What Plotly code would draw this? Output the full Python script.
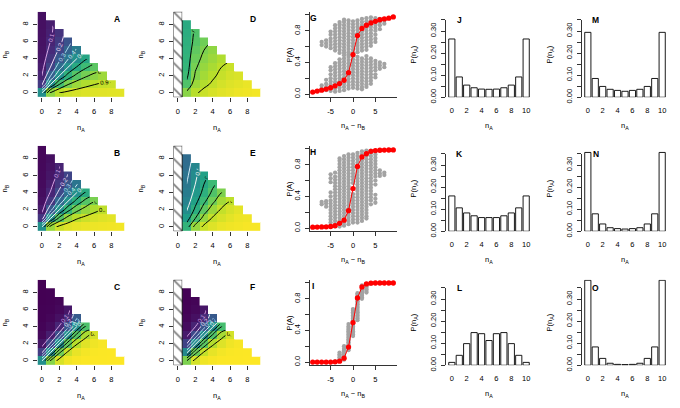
import plotly.graph_objects as go

W, H = 680, 408
CELL = 136                                   # one mfrow cell: 680/5 x 408/3
PL, PT, PW, PH = 37.5, 12.0, 87.0, 86.7      # plot region inside a cell (px)
FONT = "Liberation Sans, Arial, sans-serif"

# ---------------- data ----------------
N_A = list(range(10))
N_B = list(range(10))

LEVELS = [0.1, 0.2, 0.3, 0.4, 0.5, 0.6, 0.7, 0.8, 0.9]
LEVEL_COLORS = ["#d6a3e3", "#eedcf5", "#b3dcef", "#d4eef7", "#f4f4f4",
                "black", "black", "black", "black"]

# P(A) per n_A (outer list), values for n_B = 0, 1, ...
A_P = [
    [0.5, 0.170, 0.100, 0.074, 0.061, 0.053, 0.049, 0.045, 0.043, 0.041],
    [0.830, 0.5, 0.301, 0.203, 0.151, 0.121, 0.102, 0.088, 0.079],
    [0.900, 0.699, 0.5, 0.360, 0.271, 0.213, 0.174, 0.147],
    [0.926, 0.797, 0.640, 0.5, 0.393, 0.315, 0.259],
    [0.939, 0.849, 0.729, 0.607, 0.5, 0.413],
    [0.947, 0.879, 0.787, 0.685, 0.587],
    [0.951, 0.898, 0.826, 0.741],
    [0.955, 0.912, 0.853],
    [0.957, 0.921],
    [0.959],
]
B_P = [
    [0.5, 0.155, 0.074, 0.047, 0.035, 0.028, 0.024, 0.021, 0.019, 0.017],
    [0.845, 0.5, 0.269, 0.159, 0.106, 0.077, 0.060, 0.049, 0.041],
    [0.926, 0.731, 0.5, 0.329, 0.224, 0.161, 0.121, 0.096],
    [0.953, 0.841, 0.671, 0.5, 0.366, 0.271, 0.206],
    [0.965, 0.894, 0.776, 0.634, 0.5, 0.389],
    [0.972, 0.923, 0.839, 0.729, 0.611],
    [0.976, 0.940, 0.879, 0.794],
    [0.979, 0.951, 0.904],
    [0.981, 0.959],
    [0.983],
]
C_P = [
    [0.5, 0.183, 0.059, 0.020, 0.008, 0.003, 0.002, 0.001, 0.0, 0.0],
    [0.817, 0.5, 0.216, 0.082, 0.032, 0.014, 0.006, 0.003, 0.002],
    [0.941, 0.784, 0.5, 0.244, 0.106, 0.046, 0.021, 0.010],
    [0.980, 0.918, 0.756, 0.5, 0.267, 0.128, 0.061],
    [0.992, 0.968, 0.894, 0.733, 0.5, 0.287],
    [0.997, 0.986, 0.954, 0.872, 0.713],
    [0.998, 0.994, 0.979, 0.939],
    [0.999, 0.997, 0.990],
    [1.0, 0.998],
    [1.0],
]
D_P = [
    [],
    [0.82, 0.72, 0.68, 0.66, 0.65, 0.64, 0.63, 0.62, 0.61],
    [0.89, 0.85, 0.81, 0.79, 0.77, 0.75, 0.73, 0.72],
    [0.92, 0.885, 0.86, 0.84, 0.82, 0.80, 0.78],
    [0.94, 0.91, 0.89, 0.87, 0.85, 0.83],
    [0.955, 0.935, 0.915, 0.90, 0.88],
    [0.965, 0.95, 0.935, 0.92],
    [0.975, 0.96, 0.945],
    [0.98, 0.97],
    [0.985],
]
E_P = [
    [],
    [0.65, 0.55, 0.49, 0.45, 0.42, 0.40, 0.38, 0.36, 0.35],
    [0.84, 0.70, 0.62, 0.57, 0.53, 0.50, 0.48, 0.46],
    [0.92, 0.84, 0.75, 0.68, 0.63, 0.60, 0.57],
    [0.95, 0.91, 0.85, 0.78, 0.72, 0.68],
    [0.97, 0.94, 0.91, 0.86, 0.80],
    [0.98, 0.96, 0.94, 0.90],
    [0.985, 0.975, 0.96],
    [0.99, 0.98],
    [0.99],
]
F_P = [
    [],
    [0.80, 0.47, 0.20, 0.075, 0.03, 0.013, 0.006, 0.003, 0.002],
    [0.935, 0.77, 0.48, 0.23, 0.10, 0.043, 0.02, 0.01],
    [0.978, 0.91, 0.74, 0.49, 0.26, 0.12, 0.058],
    [0.991, 0.965, 0.885, 0.72, 0.49, 0.28],
    [0.997, 0.985, 0.95, 0.865, 0.70],
    [0.998, 0.994, 0.978, 0.935],
    [0.999, 0.997, 0.99],
    [1.0, 0.998],
    [1.0],
]

# P(A) against n_A - n_B
DIFF = list(range(-9, 10))
G_RED = [0.025, 0.038, 0.05, 0.063, 0.08, 0.104, 0.133, 0.175, 0.27, 0.5,
         0.74, 0.83, 0.87, 0.90, 0.92, 0.94, 0.95, 0.96, 0.975]
H_RED = [0.012, 0.013, 0.014, 0.016, 0.02, 0.03, 0.06, 0.10, 0.22, 0.5,
         0.78, 0.90, 0.94, 0.97, 0.98, 0.984, 0.986, 0.987, 0.988]
I_RED = [0.0, 0.0, 0.0, 0.0, 0.0, 0.003, 0.012, 0.05, 0.19, 0.5,
         0.81, 0.95, 0.988, 0.997, 1.0, 1.0, 1.0, 1.0, 1.0]

GRAY_X = list(range(-7, 8))
G_GRAY = [
    [0.07, 0.11, 0.62, 0.66],
    [0.05, 0.09, 0.13, 0.18, 0.60, 0.64, 0.68],
    [0.04, 0.08, 0.12, 0.16, 0.20, 0.25, 0.30, 0.34, 0.58, 0.62, 0.66, 0.70, 0.75, 0.79],
    [0.03, 0.07, 0.11, 0.15, 0.19, 0.23, 0.27, 0.31, 0.35, 0.39, 0.55, 0.59, 0.63, 0.67,
     0.71, 0.75, 0.79, 0.83, 0.87],
    [0.04, 0.08, 0.12, 0.16, 0.20, 0.24, 0.28, 0.32, 0.36, 0.40, 0.44, 0.52, 0.56, 0.60,
     0.64, 0.68, 0.72, 0.76, 0.80, 0.84, 0.88, 0.91],
    [0.05, 0.09, 0.13, 0.17, 0.21, 0.25, 0.29, 0.33, 0.37, 0.41, 0.45, 0.49, 0.52, 0.55,
     0.59, 0.63, 0.67, 0.71, 0.75, 0.79, 0.83, 0.87, 0.91, 0.94],
    [0.07, 0.11, 0.15, 0.19, 0.23, 0.27, 0.31, 0.35, 0.39, 0.43, 0.47, 0.50, 0.53, 0.57,
     0.61, 0.65, 0.69, 0.73, 0.77, 0.81, 0.85, 0.89, 0.93],
    [0.08, 0.12, 0.16, 0.20, 0.24, 0.28, 0.32, 0.36, 0.40, 0.44, 0.48, 0.52, 0.56, 0.60,
     0.64, 0.68, 0.72, 0.76, 0.80, 0.84, 0.88, 0.92],
    [0.07, 0.11, 0.15, 0.19, 0.23, 0.27, 0.31, 0.35, 0.39, 0.43, 0.47, 0.53, 0.57, 0.61,
     0.65, 0.69, 0.73, 0.77, 0.81, 0.85, 0.89, 0.93],
    [0.06, 0.09, 0.13, 0.17, 0.21, 0.25, 0.29, 0.33, 0.37, 0.41, 0.45, 0.55, 0.59, 0.63,
     0.67, 0.71, 0.75, 0.79, 0.83, 0.87, 0.91, 0.95],
    [0.09, 0.12, 0.16, 0.20, 0.24, 0.28, 0.32, 0.36, 0.40, 0.44, 0.48, 0.56, 0.60, 0.64,
     0.68, 0.72, 0.76, 0.80, 0.84, 0.88, 0.92, 0.96],
    [0.13, 0.17, 0.21, 0.25, 0.29, 0.33, 0.37, 0.41, 0.45, 0.61, 0.65, 0.69, 0.73, 0.77,
     0.81, 0.85, 0.89, 0.93, 0.97],
    [0.21, 0.25, 0.30, 0.34, 0.38, 0.42, 0.66, 0.70, 0.75, 0.80, 0.84, 0.88, 0.92, 0.96],
    [0.32, 0.36, 0.40, 0.82, 0.87, 0.91, 0.95],
    [0.34, 0.38, 0.89, 0.93],
]
H_GRAY = [
    [0.30, 0.33],
    [0.27, 0.31, 0.34],
    [0.03, 0.07, 0.11, 0.15, 0.19, 0.23, 0.27, 0.31, 0.35, 0.40, 0.45, 0.58, 0.63, 0.68],
    [0.02, 0.05, 0.09, 0.13, 0.17, 0.21, 0.25, 0.29, 0.33, 0.37, 0.41, 0.45, 0.49, 0.53,
     0.57, 0.61, 0.65, 0.70],
    [0.02, 0.05, 0.09, 0.13, 0.17, 0.21, 0.25, 0.29, 0.33, 0.37, 0.41, 0.45, 0.49, 0.53,
     0.57, 0.61, 0.65, 0.69, 0.73, 0.77, 0.81, 0.85, 0.88],
    [0.03, 0.07, 0.11, 0.15, 0.19, 0.23, 0.27, 0.31, 0.35, 0.39, 0.43, 0.47, 0.51, 0.55,
     0.59, 0.63, 0.67, 0.71, 0.75, 0.79, 0.83, 0.87, 0.91],
    [0.05, 0.09, 0.13, 0.17, 0.21, 0.25, 0.29, 0.33, 0.37, 0.41, 0.45, 0.49, 0.53, 0.57,
     0.61, 0.65, 0.69, 0.73, 0.77, 0.81, 0.85, 0.89, 0.93],
    [0.07, 0.11, 0.15, 0.19, 0.23, 0.27, 0.31, 0.35, 0.39, 0.43, 0.57, 0.61, 0.65, 0.69,
     0.73, 0.77, 0.81, 0.85, 0.89, 0.93],
    [0.07, 0.11, 0.15, 0.19, 0.23, 0.27, 0.31, 0.35, 0.39, 0.43, 0.47, 0.51, 0.55, 0.59,
     0.63, 0.67, 0.71, 0.75, 0.79, 0.83, 0.87, 0.91, 0.95],
    [0.09, 0.13, 0.17, 0.21, 0.25, 0.29, 0.33, 0.37, 0.41, 0.45, 0.49, 0.53, 0.57, 0.61,
     0.65, 0.69, 0.73, 0.77, 0.81, 0.85, 0.89, 0.93, 0.97],
    [0.12, 0.15, 0.19, 0.23, 0.27, 0.31, 0.35, 0.39, 0.43, 0.47, 0.51, 0.55, 0.59, 0.63,
     0.67, 0.71, 0.75, 0.79, 0.83, 0.87, 0.91, 0.95, 0.98],
    [0.30, 0.35, 0.39, 0.43, 0.47, 0.51, 0.55, 0.59, 0.63, 0.67, 0.71, 0.75, 0.79, 0.83,
     0.87, 0.91, 0.95, 0.98],
    [0.32, 0.37, 0.42, 0.55, 0.60, 0.65, 0.69, 0.73, 0.77, 0.81, 0.85, 0.89, 0.93, 0.97],
    [0.66, 0.69, 0.73],
    [0.67, 0.70],
]
I_GRAY_X = list(range(-4, 5))
I_GRAY = [
    [0.003, 0.008],
    [0.02, 0.04, 0.06, 0.08, 0.10, 0.12],
    [0.03, 0.05, 0.07, 0.09, 0.11, 0.13, 0.15, 0.17, 0.20],
    [0.15, 0.17, 0.19, 0.21, 0.23, 0.25, 0.27, 0.29, 0.31, 0.33, 0.35, 0.37, 0.39, 0.41,
     0.43, 0.45, 0.48],
    [0.33, 0.35, 0.37, 0.39, 0.41, 0.43, 0.45, 0.47, 0.49, 0.51, 0.53, 0.55, 0.57, 0.59,
     0.61, 0.63, 0.65, 0.67],
    [0.53, 0.55, 0.57, 0.59, 0.61, 0.63, 0.65, 0.67, 0.69, 0.71, 0.73, 0.75, 0.77, 0.79,
     0.81, 0.83, 0.85, 0.87],
    [0.80, 0.82, 0.84, 0.86, 0.88, 0.90, 0.92, 0.94, 0.97],
    [0.88, 0.90, 0.92, 0.94, 0.96, 0.98],
    [0.992, 0.997],
]

# P(n_A) histograms
HIST_N = list(range(11))
J_P = [0.264, 0.092, 0.055, 0.043, 0.037, 0.036, 0.037, 0.043, 0.055, 0.092, 0.264]
K_P = [0.160, 0.106, 0.083, 0.070, 0.062, 0.062, 0.062, 0.070, 0.083, 0.106, 0.160]
L_P = [0.013, 0.045, 0.098, 0.148, 0.143, 0.112, 0.143, 0.148, 0.098, 0.045, 0.013]
M_P = [0.294, 0.085, 0.049, 0.036, 0.031, 0.027, 0.031, 0.036, 0.049, 0.085, 0.294]
N_P = [0.357, 0.079, 0.033, 0.016, 0.012, 0.010, 0.012, 0.016, 0.033, 0.079, 0.357]
O_P = [0.385, 0.083, 0.031, 0.009, 0.004, 0.003, 0.004, 0.009, 0.031, 0.083, 0.385]
HIST_TOP = 0.387

# ---------------- figure ----------------
fig = go.Figure()
layout = {}
shapes = []
annotations = []

tickfont = dict(family=FONT, size=7.5, color="black")
base_axis = dict(showgrid=False, zeroline=False, ticks="outside", ticklen=3.5,
                 tickwidth=0.8, tickcolor="black", tickfont=tickfont, fixedrange=True)
minor_ticks = dict(ticks="outside", ticklen=3.5, tickwidth=0.8, tickcolor="black",
                   showgrid=False)


def refs(k):
    s = "" if k == 1 else str(k)
    return "x" + s, "y" + s


def place(k, row, col, xaxis, yaxis):
    left = PL + CELL * col
    top = PT + CELL * row
    xr, yr = refs(k)
    layout["xaxis" + xr[1:]] = dict(base_axis, domain=[left / W, (left + PW) / W],
                                    anchor=yr, **xaxis)
    layout["yaxis" + yr[1:]] = dict(base_axis, domain=[1 - (top + PH) / H, 1 - top / H],
                                    anchor=xr, **yaxis)
    return left, top


def note(text, x, y, size=7.5, angle=0, bold=False):
    if bold:
        text = "<b>" + text + "</b>"
    annotations.append(dict(text=text, x=x / W, y=1 - y / H, xref="paper", yref="paper",
                            showarrow=False, textangle=angle, xanchor="center",
                            yanchor="middle", font=dict(family=FONT, size=size, color="black")))


def heat_panel(k, row, col, vals, letter, hatch):
    left, top = place(k, row, col,
                      dict(range=[-0.5, 9.5], tickvals=[0, 2, 4, 6, 8], ticklabelstandoff=3),
                      dict(range=[-0.5, 9.5], tickvals=[0, 2, 4, 6, 8], tickangle=-90,
                           ticklabelstandoff=2))
    xr, yr = refs(k)
    z = [[vals[a][b] if b < len(vals[a]) else None for a in N_A] for b in N_B]
    fig.add_trace(go.Heatmap(z=z, x=N_A, y=N_B, colorscale="Viridis", zmin=0, zmax=1,
                             showscale=False, hoverinfo="skip", xaxis=xr, yaxis=yr))
    first = 1 if hatch else 0
    zc = [r[first:] for r in z]
    for lv, c in zip(LEVELS, LEVEL_COLORS):
        fig.add_trace(go.Contour(
            z=zc, x=N_A[first:], y=N_B, autocontour=False, showscale=False,
            contours=dict(start=lv, end=lv, size=0.1, coloring="none", showlabels=True,
                          labelfont=dict(family=FONT, size=6, color=c)),
            line=dict(color=c, width=1), hoverinfo="skip", xaxis=xr, yaxis=yr))
    if hatch:
        fig.add_trace(go.Bar(
            x=[N_A[0]], y=[len(N_B)], base=[N_B[0] - 0.5], width=[1],
            marker=dict(color="white", line=dict(color="black", width=0.8),
                        pattern=dict(shape="\\", fgcolor="black", bgcolor="white",
                                     size=9, solidity=0.2)),
            hoverinfo="skip", xaxis=xr, yaxis=yr))
    # blank out the empty upper triangle (no contours there)
    pts = []
    for a in N_A:
        ytop = N_B[0] - 0.5 + len(A_P[a])
        pts += [(a - 0.5, ytop), (a + 0.5, ytop)]
    pts.append((N_A[-1] + 0.5, N_B[-1] + 0.5))
    path = "M " + " L ".join(f"{px},{py}" for px, py in pts) + " Z"
    shapes.append(dict(type="path", path=path, xref=xr, yref=yr, fillcolor="white",
                       line=dict(width=0), layer="above"))
    note(letter, left + 79.4, top + 7.3, size=8.5, bold=True)
    note("n<sub>A</sub>", left + PW / 2, top + 118)
    note("n<sub>B</sub>", CELL * col + 5, top + PH / 2, angle=-90)


def diff_panel(k, row, col, gx_list, gray, red, letter):
    left, top = place(k, row, col,
                      dict(range=[-9.72, 9.72], tickvals=[-5, 0, 5], ticktext=["-5", "0", "5"],
                           showline=True, linecolor="black", linewidth=0.8,
                           ticklabelstandoff=3),
                      dict(range=[-0.04, 1.04], tickvals=[0, 0.4, 0.8],
                           ticktext=["0.0", "0.4", "0.8"], tickangle=-90,
                           minor=dict(minor_ticks, tickvals=[0.2, 0.6, 1.0]),
                           showline=True, linecolor="black", linewidth=0.8,
                           ticklabelstandoff=2))
    xr, yr = refs(k)
    gx, gy = [], []
    for xv, ys in zip(gx_list, gray):
        gx += [xv] * len(ys)
        gy += ys
    fig.add_trace(go.Scatter(x=gx, y=gy, mode="markers",
                             marker=dict(size=4.3, color="#a3a3a3"),
                             hoverinfo="skip", xaxis=xr, yaxis=yr))
    fig.add_trace(go.Scatter(x=DIFF, y=red, mode="lines+markers",
                             line=dict(color="red", width=1),
                             marker=dict(size=5.3, color="red"),
                             hoverinfo="skip", xaxis=xr, yaxis=yr))
    note(letter, left + 3.7, top + 6.3, size=8.5, bold=True)
    note("n<sub>A</sub> \u2212 n<sub>B</sub>", left + PW / 2, top + 116)
    note("P(A)", CELL * col + 18, top + PH / 2, angle=-90)


def hist_panel(k, row, col, vals, letter):
    left, top = place(k, row, col,
                      dict(range=[-0.85, 10.85], tickvals=HIST_N[::2], ticks="",
                           ticklabelstandoff=7),
                      dict(range=[0, HIST_TOP], tickvals=[0, 0.10, 0.20, 0.30],
                           ticktext=["0.00", "0.10", "0.20", "0.30"],
                           minor=dict(minor_ticks, tickvals=[0.05, 0.15, 0.25, 0.35]),
                           tickangle=-90, ticklabelstandoff=2))
    xr, yr = refs(k)
    fig.add_trace(go.Bar(x=HIST_N, y=vals, width=1 / 1.2,
                         marker=dict(color="white", line=dict(color="black", width=0.9)),
                         hoverinfo="skip", xaxis=xr, yaxis=yr))
    shapes.append(dict(type="line", xref=xr + " domain", yref=yr, x0=0, x1=0,
                       y0=0, y1=0.35, line=dict(color="black", width=0.8)))
    note(letter, left + 14.4, top + 8.7, size=8.5, bold=True)
    note("n<sub>A</sub>", left + PW / 2, top + 116)
    note("P(n<sub>A</sub>)", CELL * col + 6, top + PH / 2, angle=-90)


heat_panel(1, 0, 0, A_P, "A", False)
heat_panel(2, 1, 0, B_P, "B", False)
heat_panel(3, 2, 0, C_P, "C", False)
heat_panel(4, 0, 1, D_P, "D", True)
heat_panel(5, 1, 1, E_P, "E", True)
heat_panel(6, 2, 1, F_P, "F", True)
diff_panel(7, 0, 2, GRAY_X, G_GRAY, G_RED, "G")
diff_panel(8, 1, 2, GRAY_X, H_GRAY, H_RED, "H")
diff_panel(9, 2, 2, I_GRAY_X, I_GRAY, I_RED, "I")
hist_panel(10, 0, 3, J_P, "J")
hist_panel(11, 1, 3, K_P, "K")
hist_panel(12, 2, 3, L_P, "L")
hist_panel(13, 0, 4, M_P, "M")
hist_panel(14, 1, 4, N_P, "N")
hist_panel(15, 2, 4, O_P, "O")

fig.update_layout(
    width=W, height=H,
    margin=dict(l=0, r=0, t=0, b=0),
    paper_bgcolor="white", plot_bgcolor="white",
    showlegend=False,
    font=dict(family=FONT, size=7.5, color="black"),
    shapes=shapes, annotations=annotations,
    **layout
)
# the page body has a default 8px margin; drop it so the figure fills the window
fig.write_html("out.html",
               config={"displayModeBar": False, "staticPlot": True},
               post_script="document.body.style.margin='0';"
                           "document.body.style.overflow='hidden';")
